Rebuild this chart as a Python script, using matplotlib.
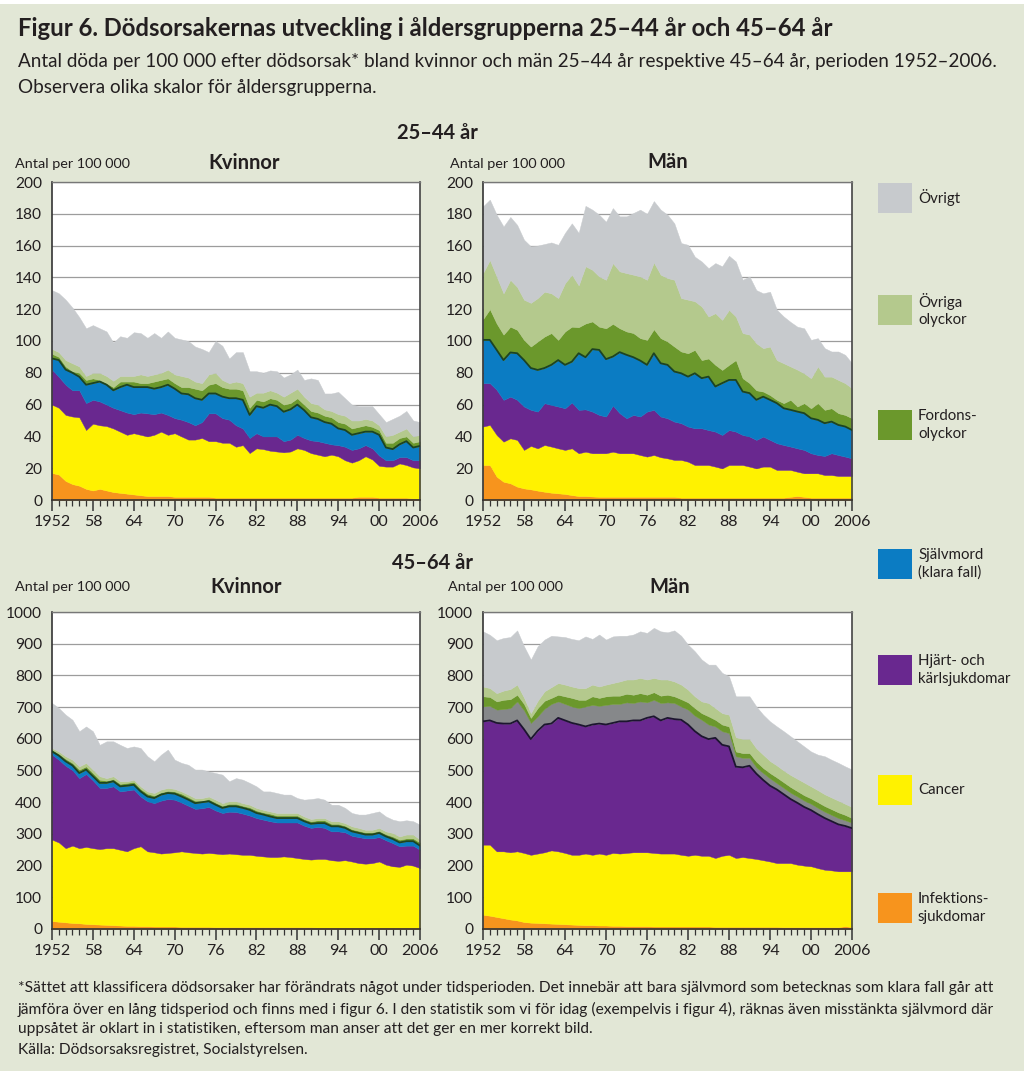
import numpy as np
import matplotlib.pyplot as plt
from matplotlib.patches import Rectangle

W, H = 1024, 1071
BG = "#e2e7d6"

plt.rcParams['font.family'] = ['Lato', 'DejaVu Sans']

years = list(range(1952, 2007))
xtick_years = [1952, 1958, 1964, 1970, 1976, 1982, 1988, 1994, 2000, 2006]
xtick_labels = ['1952', '58', '64', '70', '76', '82', '88', '94', '00', '2006']

causes = ['Infektions-\nsjukdomar', 'Cancer', 'Hjärt- och\nkärlsjukdomar',
          'Självmord\n(klara fall)', 'Fordons-\nolyckor', 'Övriga\nolyckor', 'Övrigt']
colors = ['#f7941d', '#fff200', '#69288f', '#0b7cc3', '#6b982c', '#b4c98d', '#c7cacd']

# Upper edge of each stacked band (per 100 000)
# --- 25-44 år, kvinnor
k25_infektion = [17, 16, 12, 10, 9, 7, 6, 7, 6, 5,
                 4.5, 4, 3.5, 3, 2.5, 2.5, 2.5, 2.5, 2, 2,
                 2, 2, 2, 2, 1.5, 1.5, 1.5, 1.5, 1.5, 1.5,
                 1.5, 1.5, 1.5, 1.5, 1.5, 1.5, 1.5, 1.5, 1.5, 1.5,
                 1.5, 1.5, 1.5, 1.5, 1.5, 2, 2, 2, 1.5, 1.5,
                 1.5, 1.5, 1.5, 1, 1]
k25_cancer = [60, 58, 53.5, 52.5, 52, 44, 48, 47, 46.5, 45,
              43, 41, 42, 41, 40, 41, 43, 41, 42, 40,
              38, 38, 39, 37, 37, 36, 36, 33.5, 34.5, 29.5,
              32.5, 32, 31, 30.5, 30, 30.5, 32.5, 31.5, 29.5, 28.5,
              27.5, 28.5, 27.5, 25, 23.5, 25, 27.5, 25.5, 21.5, 21,
              21, 23, 22, 20.5, 20]
k25_hjarta = [82, 77.5, 72.5, 69, 69, 61, 63, 62, 60, 58,
              56.5, 55, 54, 55, 54.5, 54, 55, 53.5, 51.5, 50.5,
              49, 47, 49, 54.5, 54.5, 51.5, 50.5, 47, 45, 39,
              42, 40, 40, 40, 37, 38, 41, 39, 37.5, 37,
              36, 35, 34.5, 33.5, 31.5, 32.5, 34.5, 32.5, 28, 25,
              25, 27, 27, 25, 25]
k25_sjalvmord = [89, 88, 82, 80, 77.5, 72.5, 73.5, 74.5, 72.5, 69,
                 71, 72.5, 71, 71, 71, 70, 71, 72.5, 70, 67,
                 66.5, 64, 63, 67, 67, 65, 64, 64, 63, 53.5,
                 59, 58, 60, 59, 55.5, 57, 60, 56.5, 52, 51,
                 49, 48, 45, 44, 41, 42, 43, 43, 41, 33,
                 32, 35, 37, 33, 34]
k25_fordon = [92, 90, 84, 81, 80, 75.5, 76.5, 75.5, 73.5, 71,
              74.5, 74.5, 74.5, 73.5, 73.5, 74.5, 75.5, 76.5, 73.5, 71,
              71, 70, 69, 72.5, 73.5, 71, 70, 70, 69, 58,
              63, 62, 64, 63, 60, 61, 64, 60, 56, 55,
              53, 52, 49, 48, 45, 46, 47, 46, 44, 36,
              36, 39, 40, 36, 37]
k25_ovriga = [95, 93, 88, 86, 84, 78, 80, 80, 78, 75,
              78, 78, 78, 79, 78, 79, 80, 82, 79, 78,
              77, 74.5, 73.5, 79, 80, 75.5, 73.5, 74.5, 73.5, 65,
              67.5, 67.5, 69, 67.5, 65, 67.5, 70, 65, 61, 60,
              57, 56, 54, 53, 50, 50, 51, 50, 47, 40,
              41, 43, 45, 40, 41]
k25_ovrigt = [132, 130, 126, 121, 115, 108, 110, 108, 106, 99,
              103, 102, 105.5, 105, 102, 105, 102, 106, 102, 101,
              100, 96.5, 95, 93, 100, 97, 89, 93, 93, 81,
              81, 80, 81.5, 81, 77, 79, 82, 75.5, 76.5, 75.5,
              67, 67, 68, 64, 60, 59, 59, 59, 54, 49,
              51, 53, 56, 50, 49]

# --- 25-44 år, män
m25_infektion = [22, 22, 14.7, 11.5, 10.5, 8.4, 7.3, 6.7, 5.9, 5.2,
                 4.6, 4.2, 3.8, 3.1, 2.5, 2.5, 2.2, 2, 2, 2,
                 2, 2, 2, 2, 2, 2, 2, 2, 2, 1.5,
                 1.5, 1.5, 1.5, 1.5, 1.5, 1.5, 1.5, 1.5, 1.5, 1.5,
                 1.5, 1.5, 1.5, 1.5, 1.5, 2, 2.5, 2, 1.5, 1.5,
                 1.5, 1.5, 1.5, 1.5, 1.5]
m25_cancer = [46.2, 47.2, 40.9, 36.7, 38.8, 37.8, 31.5, 34, 32.5, 34.6,
              33.6, 32.5, 31.5, 32.5, 29.4, 30.4, 29.4, 29.4, 29.4, 30.4,
              29.4, 29.4, 29.4, 28.3, 27.3, 28.3, 26.9, 26.2, 25.2, 25.2,
              24.1, 22, 22, 22, 21, 19.9, 22, 22, 22, 21,
              19.9, 21, 21, 18.9, 18.9, 18.9, 17.8, 16.8, 16.8, 16.8,
              15.7, 15.7, 15.1, 15.1, 15.1]
m25_hjarta = [73.5, 73.5, 69.3, 63, 65, 63, 58.8, 56.7, 55.6, 60.9,
              59.8, 58.8, 57.7, 61.3, 56.7, 57, 55.6, 53.5, 52.5, 59.4,
              54.6, 51.4, 53.5, 52.5, 55.6, 56.7, 52.5, 51.4, 49.3, 48.3,
              46.2, 45.1, 45.1, 44, 43, 40.9, 44, 43, 40.9, 39.9,
              37.8, 39.9, 37.8, 35.7, 34.6, 33.6, 32.5, 31.5, 29.4, 28.3,
              27.7, 29.4, 28.3, 27.3, 26.2]
m25_sjalvmord = [100.7, 100.7, 94.4, 88, 92.8, 92.3, 88, 83, 81.8, 83,
                 85, 88, 85, 87, 92.3, 89.8, 94.9, 94.4, 88.6, 90.2,
                 93, 91.3, 89.8, 87.7, 85, 92.3, 86, 85, 80.8, 79.7,
                 77.6, 79.7, 76.6, 77.6, 71.4, 73.5, 75.5, 75.5, 68.2, 67.2,
                 63, 65, 63, 60.9, 57.7, 56.7, 55.6, 54.6, 51.4, 50.4,
                 48.3, 49.3, 47.2, 46.2, 44]
m25_fordon = [113.7, 120, 111, 104, 109, 107, 100.7, 96.5, 99.7, 102.8,
              105, 100.7, 106, 109, 108.7, 111, 112.3, 109, 108, 110.8,
              108, 106, 105, 101.8, 100.7, 107.4, 101.8, 99.7, 96.5, 93.4,
              92.3, 94.4, 88, 89, 85, 81.8, 85, 88, 76.6, 73.5,
              69, 68.2, 66, 63, 60.9, 63, 58.8, 60.9, 57.7, 60.9,
              56.7, 57.7, 54.6, 53.5, 51.4]
m25_ovriga = [142.7, 151, 140.6, 130, 138.5, 134, 126, 124, 127, 131,
              130, 127, 136.4, 141.7, 135, 147, 144.8, 140.6, 138.5, 149,
              143.8, 142.7, 141.7, 140.6, 138.5, 149.4, 141.7, 139.6, 138.5, 127,
              126, 125, 121.7, 115.4, 117.5, 113.3, 119.6, 115.4, 105, 104,
              98.6, 95.5, 96.5, 88, 86, 84, 82, 79.7, 76.6, 84,
              77.6, 77.6, 75.5, 73.5, 70.3]
m25_ovrigt = [184.7, 188.9, 179.4, 172, 178, 173, 163.7, 159.5, 160, 161,
              162, 160.5, 168, 174, 168, 185, 182.6, 179.4, 175, 183.6,
              178.4, 178.4, 180.5, 182.6, 180, 188, 182.6, 179.4, 174, 161.6,
              160.5, 153, 150, 145.8, 149, 147, 153.6, 150, 138.5, 140.6,
              132, 130, 131, 119.6, 115.4, 112, 109, 108, 100.7, 101.8,
              95.5, 93.4, 93.4, 91.3, 86]

# --- 45-64 år, kvinnor
k45_infektion = [25, 23, 21, 19, 18, 16, 15, 14, 13, 12,
                 11, 10, 10, 9, 9, 8, 8, 8, 8, 7,
                 7, 7, 7, 7, 6, 6, 6, 6, 6, 6,
                 6, 6, 6, 6, 6, 6, 6, 6, 6, 5,
                 5, 5, 5, 5, 5, 5, 5, 5, 5, 5,
                 5, 5, 5, 5, 5]
k45_cancer = [282, 273, 255, 263, 255, 259, 255, 252, 255, 255,
              250, 245, 255, 261, 245, 242, 238, 240, 242, 245,
              242, 240, 238, 240, 238, 236, 238, 236, 234, 234,
              231, 229, 227, 227, 229, 227, 224, 221, 219, 221,
              221, 217, 215, 217, 213, 208, 206, 208, 213, 203,
              198, 196, 203, 200, 192]
k45_hjarta = [550, 534, 515, 501, 476, 489, 469, 445, 445, 450,
              434, 437, 440, 418, 403, 397, 405, 410, 408, 399,
              389, 379, 381, 385, 374, 366, 370, 369, 364, 358,
              350, 345, 340, 336, 336, 336, 336, 326, 319, 322,
              319, 308, 308, 305, 294, 290, 286, 286, 290, 280,
              271, 261, 263, 263, 250]
k45_sjalvmord = [560, 547, 529, 516, 492, 503, 482, 461, 461, 466,
                 450, 452, 455, 434, 418, 413, 424, 429, 427, 418,
                 408, 397, 400, 403, 392, 382, 387, 387, 382, 376,
                 366, 361, 355, 350, 350, 350, 350, 340, 332, 334,
                 334, 324, 324, 319, 308, 303, 298, 298, 303, 292,
                 284, 273, 277, 277, 263]
k45_fordon = [566, 553, 537, 524, 503, 513, 492, 471, 468, 473,
              458, 461, 464, 442, 427, 421, 431, 436, 434, 427,
              416, 405, 405, 410, 399, 389, 395, 395, 389, 384,
              374, 368, 364, 358, 358, 358, 358, 347, 340, 343,
              343, 332, 332, 326, 315, 310, 305, 305, 310, 299,
              292, 282, 286, 286, 273]
k45_ovriga = [571, 560, 545, 534, 513, 524, 503, 482, 476, 482,
              466, 466, 471, 450, 434, 429, 440, 445, 442, 434,
              424, 413, 413, 418, 408, 397, 403, 403, 397, 392,
              382, 376, 371, 366, 366, 366, 366, 355, 347, 350,
              350, 340, 340, 334, 324, 319, 313, 313, 319, 308,
              303, 292, 298, 298, 282]
k45_ovrigt = [713, 697, 676, 660, 624, 639, 624, 581, 592, 592,
              581, 571, 576, 571, 545, 529, 550, 566, 534, 524,
              518, 503, 503, 497, 492, 487, 466, 476, 471, 461,
              450, 434, 434, 429, 424, 424, 413, 408, 410, 413,
              408, 392, 392, 382, 366, 361, 361, 366, 371, 355,
              345, 340, 343, 340, 329]

# --- 45-64 år, män
m45_infektion = [45, 42, 38, 34, 30, 27, 22, 20, 19, 18,
                 17, 16, 15, 14, 13, 12, 12, 11, 11, 10,
                 10, 9, 9, 9, 9, 8, 8, 8, 8, 8,
                 8, 8, 8, 8, 7, 7, 7, 7, 7, 7,
                 7, 7, 7, 7, 6, 6, 6, 6, 6, 6,
                 6, 6, 6, 9, 6]
m45_cancer = [266, 266, 245, 245, 242, 245, 240, 234, 238, 242,
              248, 245, 240, 234, 234, 238, 234, 238, 234, 240,
              238, 240, 242, 242, 242, 240, 238, 238, 238, 234,
              231, 234, 231, 231, 224, 231, 234, 224, 227, 224,
              221, 217, 213, 208, 208, 208, 203, 200, 198, 192,
              187, 185, 182, 182, 182]
m45_hjarta = [655, 658, 650, 648, 648, 658, 630, 599, 625, 645,
              648, 666, 658, 650, 645, 639, 645, 648, 645, 650,
              655, 655, 658, 658, 666, 671, 658, 666, 662, 660,
              645, 624, 608, 599, 603, 581, 576, 512, 510, 515,
              490, 470, 452, 440, 425, 410, 398, 385, 375, 362,
              350, 340, 330, 325, 318]
m45_sjalvmord = [702, 704, 692, 694, 697, 718, 690, 650, 671, 695,
                 710, 718, 710, 702, 697, 702, 707, 704, 707, 710,
                 710, 715, 713, 718, 715, 723, 713, 715, 713, 702,
                 692, 673, 660, 645, 639, 624, 618, 545, 540, 540,
                 510, 492, 475, 460, 445, 430, 418, 405, 395, 382,
                 370, 360, 350, 343, 335]
m45_fordon = [734, 732, 718, 723, 725, 739, 710, 666, 697, 720,
              729, 739, 734, 729, 723, 723, 734, 729, 734, 736,
              736, 742, 739, 744, 739, 747, 736, 739, 734, 725,
              715, 697, 681, 671, 660, 645, 639, 560, 555, 555,
              528, 508, 492, 478, 463, 448, 435, 422, 412, 400,
              388, 378, 368, 360, 350]
m45_ovriga = [765, 760, 744, 752, 757, 771, 730, 681, 720, 750,
              763, 776, 771, 765, 760, 760, 771, 765, 771, 776,
              781, 787, 787, 792, 787, 792, 787, 787, 781, 771,
              755, 734, 718, 713, 697, 681, 676, 605, 600, 600,
              570, 550, 530, 516, 500, 486, 474, 462, 450, 438,
              425, 415, 405, 395, 385]
m45_ovrigt = [939, 928, 911, 918, 921, 942, 892, 850, 892, 913,
              925, 923, 921, 915, 911, 923, 915, 929, 913, 923,
              925, 925, 929, 939, 934, 950, 939, 936, 942, 925,
              897, 876, 850, 834, 834, 808, 797, 734, 734, 734,
              702, 676, 655, 639, 624, 608, 592, 576, 560, 550,
              545, 534, 524, 513, 503]


def px_rect(x0, y0, x1, y1):
    return [x0 / W, 1 - y1 / H, (x1 - x0) / W, (y1 - y0) / H]


def ftext(x, y, s, **kw):
    fig.text(x / W, 1 - y / H, s, **kw)


def draw_panel(box, levels, ymax, ystep, band_colors, line_idx, line_color):
    ax = fig.add_axes(px_rect(*box))
    ax.set_facecolor('white')
    lower = np.zeros(len(years))
    for lev, col in zip(levels, band_colors):
        lev = np.asarray(lev, dtype=float)
        ax.fill_between(years, lower, lev, facecolor=col, edgecolor=col,
                        lw=0.3, zorder=2)
        lower = lev
    ax.plot(years, levels[line_idx], color=line_color, lw=1.3, zorder=3)

    ax.set_xlim(1952, 2006)
    ax.set_ylim(0, ymax)
    ax.set_yticks(np.arange(0, ymax + 1, ystep))
    ax.yaxis.grid(True, color='#9c9c9c', lw=0.9)
    ax.set_axisbelow(True)
    ax.tick_params(axis='y', length=0, pad=7, labelsize=11.2, labelcolor='#231f20')
    ax.set_xticks(xtick_years)
    ax.set_xticklabels(xtick_labels)
    ax.set_xticks(years, minor=True)
    ax.tick_params(axis='x', which='major', length=8, width=1.1, pad=3,
                   labelsize=11.5, labelcolor='#231f20', color='#333333')
    ax.tick_params(axis='x', which='minor', length=4, width=0.9, color='#333333')
    for side in ['left', 'bottom']:
        ax.spines[side].set_color('#333333')
        ax.spines[side].set_linewidth(1.2)
    ax.spines['right'].set_color('#444444')
    ax.spines['right'].set_linewidth(1.2)
    ax.spines['top'].set_color('#777777')
    ax.spines['top'].set_linewidth(1.0)
    return ax


fig = plt.figure(figsize=(W / 100, H / 100), dpi=100, facecolor=BG)
fig.patches.append(Rectangle((0, 1 - 4 / H), 1, 4 / H, transform=fig.transFigure,
                             facecolor='white', edgecolor='none'))

# Headings
ftext(18, 29, 'Figur 6. Dödsorsakernas utveckling i åldersgrupperna 25–44 år och 45–64 år',
      fontsize=17.2, fontweight='bold', va='center', color='#231f20')
ftext(18, 61, 'Antal döda per 100 000 efter dödsorsak* bland kvinnor och män 25–44 år '
      'respektive 45–64 år, perioden 1952–2006.', fontsize=13.6, va='center', color='#231f20')
ftext(18, 87, 'Observera olika skalor för åldersgrupperna.', fontsize=13.6,
      va='center', color='#231f20')

ftext(437, 133, '25–44 år', fontsize=14.5, fontweight='bold', ha='center', va='center',
      color='#231f20')
ftext(433, 563, '45–64 år', fontsize=14.5, fontweight='bold', ha='center', va='center',
      color='#231f20')

boxes = [(52, 182, 420, 500), (483, 182, 852, 500), (52, 612, 420, 929), (483, 612, 852, 929)]
panels = [
    [k25_infektion, k25_cancer, k25_hjarta, k25_sjalvmord, k25_fordon, k25_ovriga, k25_ovrigt],
    [m25_infektion, m25_cancer, m25_hjarta, m25_sjalvmord, m25_fordon, m25_ovriga, m25_ovrigt],
    [k45_infektion, k45_cancer, k45_hjarta, k45_sjalvmord, k45_fordon, k45_ovriga, k45_ovrigt],
    [m45_infektion, m45_cancer, m45_hjarta, m45_sjalvmord, m45_fordon, m45_ovriga, m45_ovrigt],
]
titles = ['Kvinnor', 'Män', 'Kvinnor', 'Män']
title_pos = [(244, 163), (668, 162), (246, 587), (670, 587)]
unit_pos = [(15, 164), (450, 164), (15, 587), (448, 587)]

for i, (box, levels) in enumerate(zip(boxes, panels)):
    if i < 2:
        ymax, ystep = 200, 20
    else:
        ymax, ystep = 1000, 100
    band_colors = list(colors)
    line_idx, line_color = 3, '#1c4324'
    if i == 3:
        # in the men 45-64 panel the suicide band is printed grey
        band_colors[3] = '#86888a'
        line_idx, line_color = 2, '#1d1530'
    draw_panel(box, levels, ymax, ystep, band_colors, line_idx, line_color)
    ftext(*title_pos[i], titles[i], fontsize=14.5, fontweight='bold', ha='center',
          va='center', color='#231f20')
    ftext(*unit_pos[i], 'Antal per 100 000', fontsize=10.4, va='center', color='#231f20')

# Legend (top to bottom)
legend_y = [198, 310, 425, 564, 670, 790, 908]
for cause, col, yc in zip(causes[::-1], colors[::-1], legend_y):
    fig.patches.append(Rectangle((878 / W, 1 - (yc + 15) / H), 34 / W, 30 / H,
                                 transform=fig.transFigure, facecolor=col,
                                 edgecolor='none'))
    ftext(918, yc, cause, fontsize=10.8, va='center', color='#231f20', linespacing=1.35)

# Footnote
notes = ['*Sättet att klassificera dödsorsaker har förändrats något under tidsperioden. '
         'Det innebär att bara självmord som betecknas som klara fall går att',
         'jämföra över en lång tidsperiod och finns med i figur 6. I den statistik som vi '
         'för idag (exempelvis i figur 4), räknas även misstänkta självmord där',
         'uppsåtet är oklart in i statistiken, eftersom man anser att det ger en mer korrekt bild.',
         'Källa: Dödsorsaksregistret, Socialstyrelsen.']
for s, yc in zip(notes, [988, 1009, 1029, 1050]):
    ftext(18, yc, s, fontsize=11.2, va='center', color='#231f20')

fig.savefig('out.png', dpi=100, facecolor=BG)
